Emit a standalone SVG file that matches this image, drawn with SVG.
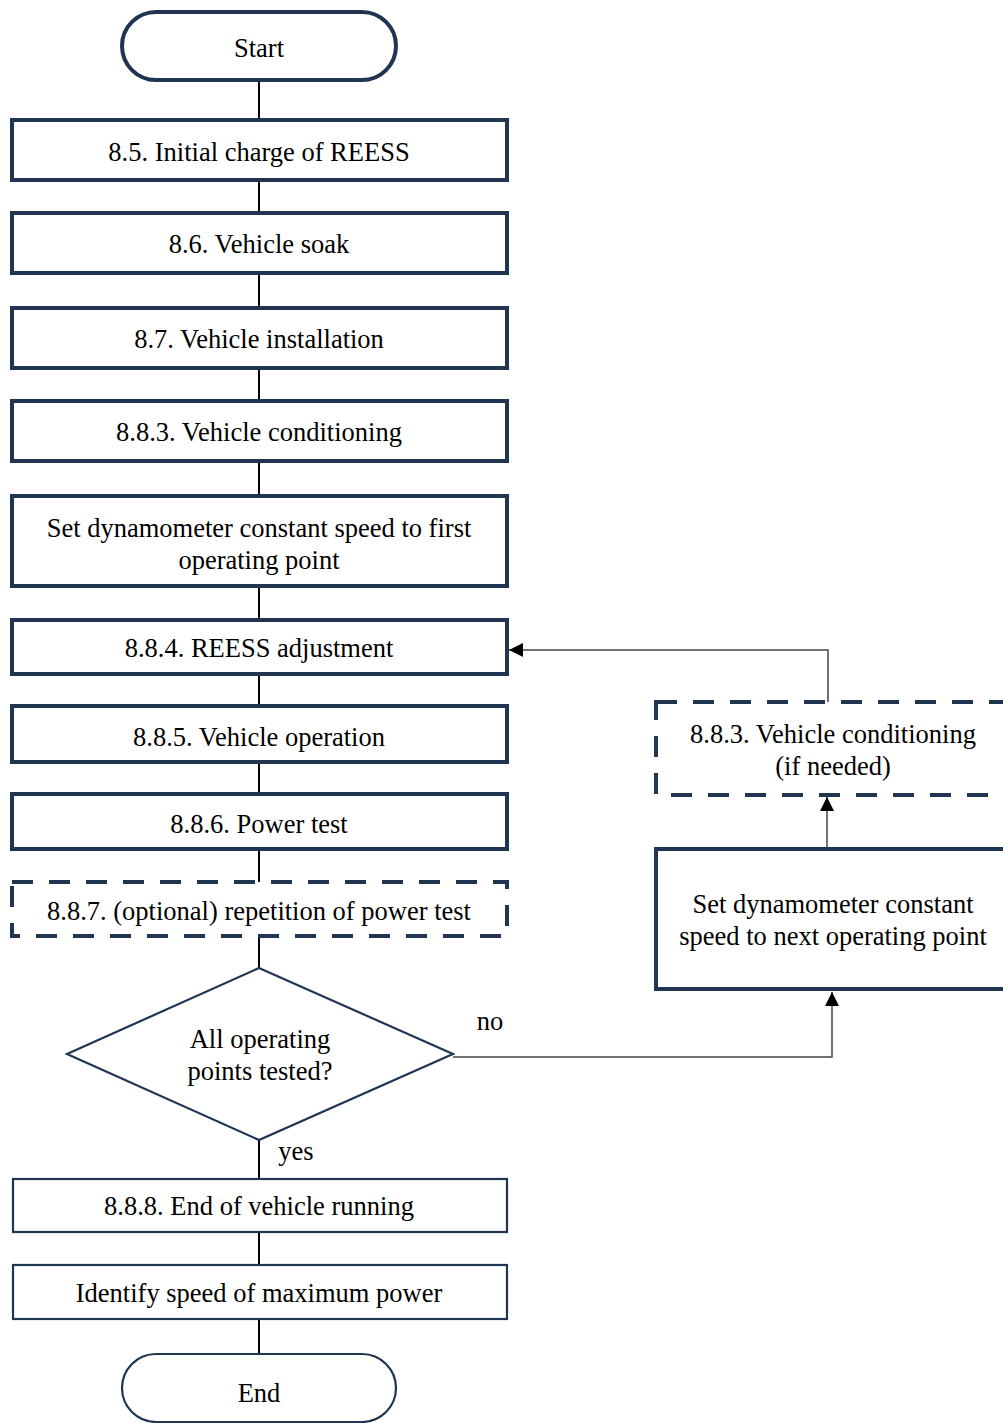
<svg xmlns="http://www.w3.org/2000/svg" width="1003" height="1423" viewBox="0 0 1003 1423">
<style>
.t{font-family:"Liberation Serif","Times New Roman",serif;font-size:26.5px;fill:#000;text-anchor:middle}
.b{fill:#fff;stroke:#1f3552;stroke-width:4}
.bt{fill:#fff;stroke:#1f3552;stroke-width:2.2}
.d{fill:#fff;stroke:#1f3552;stroke-width:4;stroke-dasharray:21 16}
.c{fill:none;stroke:#000;stroke-width:2}
.f{fill:none;stroke:#444;stroke-width:1.5}
</style>
<defs>
<marker id="a" viewBox="0 0 10 10" refX="10" refY="5" markerWidth="14" markerHeight="14" markerUnits="userSpaceOnUse" orient="auto">
<path d="M0,0 L10,5 L0,10 z" fill="#000"/>
</marker>
</defs>
<rect width="1003" height="1423" fill="#fff"/>
<g id="connectors">
<line class="c" x1="259" y1="80" x2="259" y2="120"/>
<line class="c" x1="259" y1="180" x2="259" y2="213"/>
<line class="c" x1="259" y1="273" x2="259" y2="308"/>
<line class="c" x1="259" y1="368" x2="259" y2="401"/>
<line class="c" x1="259" y1="461" x2="259" y2="496"/>
<line class="c" x1="259" y1="586" x2="259" y2="620"/>
<line class="c" x1="259" y1="674" x2="259" y2="706"/>
<line class="c" x1="259" y1="762" x2="259" y2="794"/>
<line class="c" x1="259" y1="849" x2="259" y2="882"/>
<line class="c" x1="259" y1="936" x2="259" y2="968"/>
<line class="c" x1="259" y1="1140" x2="259" y2="1179"/>
<line class="c" x1="259" y1="1232" x2="259" y2="1265"/>
<line class="c" x1="259" y1="1319" x2="259" y2="1354"/>
<polyline class="f" points="453,1057 832,1057 832,992" marker-end="url(#a)"/>
<polyline class="f" points="827,848 827,797" marker-end="url(#a)"/>
<polyline class="f" points="828,702 828,650 509,650" marker-end="url(#a)"/>
<text class="t" x="490" y="1030">no</text>
<text class="t" x="296" y="1160">yes</text>
</g>
<g id="start">
<rect class="b" x="122" y="12" width="274" height="68" rx="34"/>
<text class="t" x="259" y="57">Start</text>
</g>
<g id="n85">
<rect class="b" x="12" y="120" width="495" height="60"/>
<text class="t" x="259" y="161">8.5. Initial charge of REESS</text>
</g>
<g id="n86">
<rect class="b" x="12" y="213" width="495" height="60"/>
<text class="t" x="259" y="253">8.6. Vehicle soak</text>
</g>
<g id="n87">
<rect class="b" x="12" y="308" width="495" height="60"/>
<text class="t" x="259" y="348">8.7. Vehicle installation</text>
</g>
<g id="n883">
<rect class="b" x="12" y="401" width="495" height="60"/>
<text class="t" x="259" y="441">8.8.3. Vehicle conditioning</text>
</g>
<g id="nset">
<rect class="b" x="12" y="496" width="495" height="90"/>
<text class="t" x="259" y="537">Set dynamometer constant speed to first</text>
<text class="t" x="259" y="569">operating point</text>
</g>
<g id="n884">
<rect class="b" x="12" y="620" width="495" height="54"/>
<text class="t" x="259" y="657">8.8.4. REESS adjustment</text>
</g>
<g id="n885">
<rect class="b" x="12" y="706" width="495" height="56"/>
<text class="t" x="259" y="746">8.8.5. Vehicle operation</text>
</g>
<g id="n886">
<rect class="b" x="12" y="794" width="495" height="55"/>
<text class="t" x="259" y="833">8.8.6. Power test</text>
</g>
<g id="n887">
<rect class="d" x="12" y="882" width="495" height="54"/>
<text class="t" x="259" y="920">8.8.7. (optional) repetition of power test</text>
</g>
<g id="decision">
<polygon class="bt" points="259,968 453,1054 259,1140 67,1054"/>
<text class="t" x="260" y="1048">All operating</text>
<text class="t" x="260" y="1080">points tested?</text>
</g>
<g id="n888">
<rect class="bt" x="13" y="1179" width="494" height="53"/>
<text class="t" x="259" y="1215">8.8.8. End of vehicle running</text>
</g>
<g id="nident">
<rect class="bt" x="13" y="1265" width="494" height="54"/>
<text class="t" x="259" y="1302">Identify speed of maximum power</text>
</g>
<g id="end">
<rect class="bt" x="122" y="1354" width="274" height="68" rx="34"/>
<text class="t" x="259" y="1402">End</text>
</g>
<g id="ncond">
<rect class="d" x="656" y="702" width="360" height="93"/>
<text class="t" x="833" y="743">8.8.3. Vehicle conditioning</text>
<text class="t" x="833" y="775">(if needed)</text>
</g>
<g id="nnext">
<rect class="b" x="656" y="849" width="360" height="140"/>
<text class="t" x="833" y="913">Set dynamometer constant</text>
<text class="t" x="833" y="945">speed to next operating point</text>
</g>
</svg>
